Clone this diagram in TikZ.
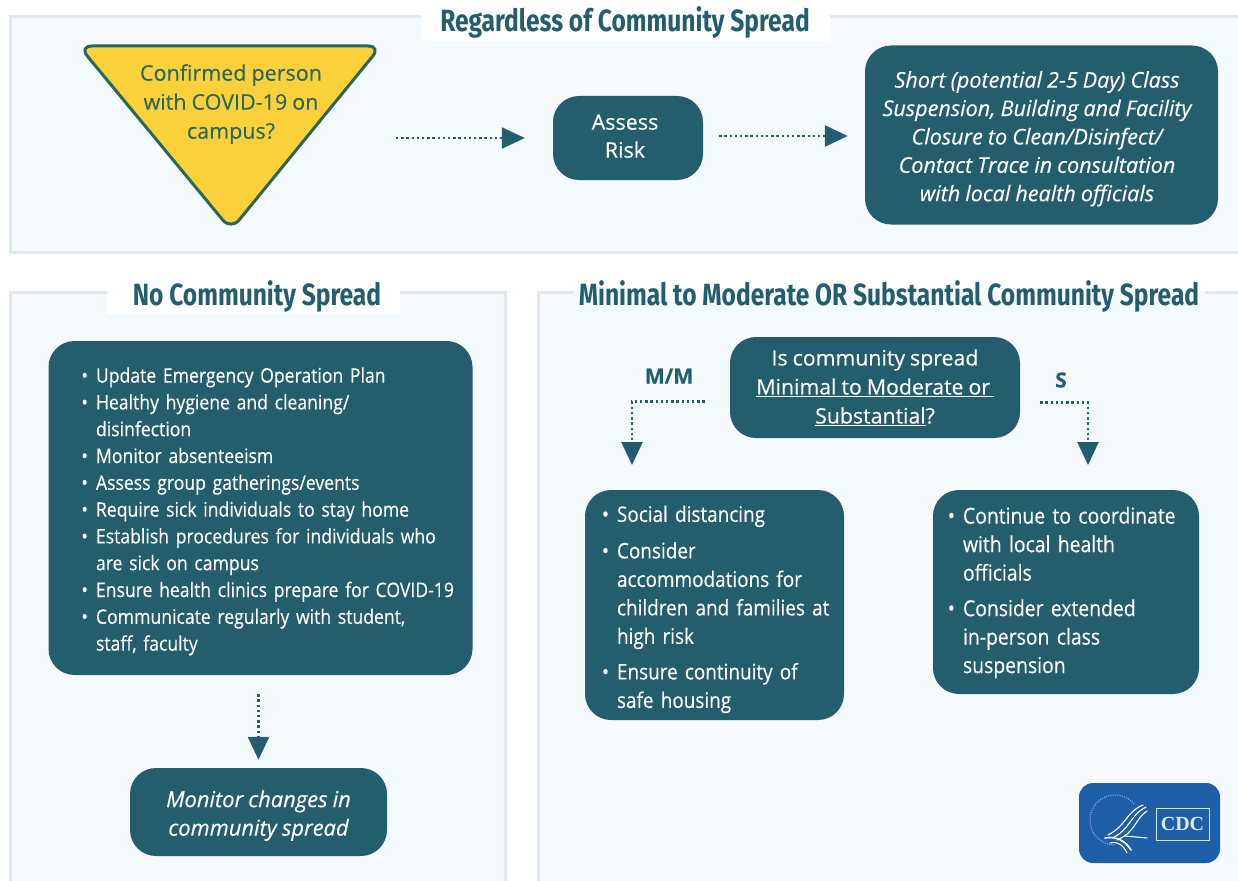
\documentclass[tikz,border=0pt]{standalone}
\usepackage{fontspec}
\setmainfont[FakeStretch=0.88,FakeBold=0.25,WordSpace=0.85]{Open Sans}
\newfontfamily\widef[FakeBold=0.25,WordSpace=0.9]{Open Sans}
\newfontfamily\titlef[FakeStretch=0.8]{Fira Sans}
\newfontfamily\cdcf{Liberation Serif}
\usetikzlibrary{arrows.meta,calc}
\definecolor{teal}{HTML}{245E6E}
\definecolor{panelfill}{HTML}{F5FAFE}
\definecolor{panelline}{HTML}{E2E9EC}
\definecolor{warn}{HTML}{FBD13B}
\definecolor{warnline}{HTML}{2A665E}
\definecolor{cdcblue}{HTML}{1F5FA8}
\definecolor{cdctext}{HTML}{D9E8F5}
\newcommand{\bul}{\leavevmode\llap{•\hspace{8pt}}}
\newcommand{\longln}[1]{\leavevmode\rlap{#1}}
\newcommand{\topgap}[1]{\rule{0pt}{#1pt}}
\newcommand{\rp}[1]{\leavevmode\hbox to #1pt{}}
\tikzset{
  x=1pt,y=-1pt,
  panel/.style={draw=panelline,line width=3pt,fill=panelfill},
  paneltitle/.style={text=teal,inner sep=0pt,font=\titlef\bfseries\fontsize{30.7}{34}\selectfont},
  titlebg/.style={fill=white,draw=none},
  tealbox/.style={fill=teal,text=white,rounded corners=26pt,inner sep=0pt,align=center,font=\widef\fontsize{21.5}{28.5}\selectfont},
  listbox/.style={tealbox,align=left,font=\fontsize{20}{26.8}\selectfont},
  flow/.style={draw=teal,line width=2.4pt,dash pattern=on 2.4pt off 2.8pt,-{Triangle[length=23pt,width=21pt,fill=teal]}},
  branchlabel/.style={text=teal,inner sep=0pt,font=\widef\bfseries\fontsize{21}{24}\selectfont},
}
\begin{document}
\begin{tikzpicture}
\useasboundingbox (0,0) rectangle (1238,880);
\clip (0,0) rectangle (1238,880);
\fill[white] (0,0) rectangle (1238,880);
% panels
\draw[panel] (10,17) rectangle (1250,252);
\draw[panel] (10,292) rectangle (505,900);
\draw[panel] (538,292) rectangle (1250,900);
\fill[titlebg] (421,0) rectangle (830,41);
\fill[titlebg] (107,276) rectangle (400,314);
\fill[white] (574,285) rectangle (1205,291);
\fill[panelfill] (574,291) rectangle (1205,296);
\node[paneltitle] (t1) at (625,22) {Regardless of Community Spread};
\node[paneltitle] (t2) at (257,296.5) {No Community Spread};
\node[paneltitle] (t3) at (889,296.5) {Minimal to Moderate OR Substantial Community Spread};
% triangle
\draw[fill=warn,draw=warnline,line width=3pt,rounded corners=13pt] (79,46) -- (381,46) -- (231,230) -- cycle;
\node[text=warnline,inner sep=0pt,align=center,font=\widef\fontsize{21.5}{29}\selectfont] (tri) at (231,104) {Confirmed person\\with COVID-19 on\\campus?};
\coordinate (triexit) at (396,138);
% upper boxes
\node[tealbox,minimum width=150pt,minimum height=84pt] (assess) at (628,138) {Assess\rp{6}\\[-0.5pt]Risk\rp{6}\rule[-4pt]{0pt}{0pt}};
\node[tealbox,minimum width=353pt,minimum height=179pt,font=\widef\itshape\fontsize{21.6}{28.4}\selectfont] (short) at (1041.5,135) {\topgap{24}Short (potential 2-5 Day) Class\rp{9}\\Suspension, Building and Facility\rp{9}\\Closure to Clean/Disinfect/\rp{9}\\Contact Trace in consultation\rp{9}\\with local health officials\rp{9}};
% left column
\node[listbox,minimum width=424pt,minimum height=334pt,text width=329pt] (nolist) at (260.5,508) {\topgap{22}\bul Update Emergency Operation Plan\\\bul Healthy hygiene and cleaning/\\disinfection\\\bul Monitor absenteeism\\\bul Assess group gatherings/events\\\bul Require sick individuals to stay home\\\bul\longln{Establish procedures for individuals who}\\are sick on campus\\\bul\longln{Ensure health clinics prepare for COVID-19}\\\bul Communicate regularly with student,\\staff, faculty};
\node[tealbox,minimum width=257pt,minimum height=88pt,font=\widef\itshape\fontsize{21.9}{28.5}\selectfont] (monitor) at (258.5,812) {\topgap{24}Monitor changes in\\community spread};
% right column
\node[tealbox,minimum width=290pt,minimum height=101pt,font=\widef\fontsize{21.3}{29}\selectfont] (q) at (875,387.5) {Is community spread\\\underline{Minimal to Moderate or\,}\\\underline{Substantial}?};
\node[branchlabel] (mmlabel) at (669,376) {M/M};
\node[branchlabel] (slabel) at (1061,380) {S};
\node[listbox,minimum width=259pt,minimum height=230pt,text width=195pt,font=\fontsize{21.5}{28.5}\selectfont] (mm) at (714.5,605) {\topgap{25}\bul Social distancing\\[8pt]\bul Consider\\accommodations for\\\longln{children and families at}\\high risk\\[7pt]\bul Ensure continuity of\\safe housing};
\node[listbox,minimum width=266pt,minimum height=204pt,text width=206pt,font=\fontsize{22}{28.5}\selectfont] (sbox) at (1066,592) {\topgap{18}\bul\longln{Continue to coordinate}\\with local health\\officials\\[7pt]\bul Consider extended\\in-person class\\suspension};
\coordinate (mmdrop) at (632,490);
\coordinate (sdrop) at (1088,490);
% connectors
\draw[flow,shorten >=28pt] (triexit) -- (assess.west);
\draw[flow,shorten <=16pt,shorten >=17pt] ([yshift=2pt]assess.east) -- ([yshift=2pt]assess.east -| short.west);
\draw[flow,shorten <=19pt,shorten >=8pt] (monitor.north |- nolist.south) -- (monitor.north);
\draw[flow,shorten <=25pt,shorten >=25pt] ([yshift=-14pt]q.west) -| (mmdrop);
\draw[flow,shorten <=20pt,shorten >=25pt] ([yshift=-15pt]q.east) -| (sdrop);
% CDC logo
\fill[cdcblue,rounded corners=14pt] (1079,783) rectangle (1220,863);
\draw[white,opacity=.55,line width=1pt,dash pattern=on 1pt off 1.3pt] plot[domain=-40:-270,samples=40,smooth] ({1115+25*cos(\x)},{820+25*sin(\x)});
\draw[white,line width=1.1pt,line cap=round] (1146,807) .. controls (1130,815) and (1130,830) .. (1112,838);
\draw[white,line width=1.1pt,line cap=round] (1143,805) .. controls (1126,812) and (1126,826) .. (1108,835);
\draw[white,line width=1.1pt,line cap=round] (1147,811) .. controls (1134,820) and (1136,832) .. (1117,840);
\draw[white,line width=1.6pt,line cap=round] (1105,838) .. controls (1115,836) and (1125,840) .. (1131,850);
\draw[white,line width=1.1pt,line cap=round] (1110,843) .. controls (1118,841) and (1123,845) .. (1127,853);
\draw[white,line width=1.1pt,line cap=round] (1125,836) -- (1147,838);
\node[draw=cdctext,line width=.9pt,text=cdctext,inner sep=0pt,minimum width=53pt,minimum height=32pt,font=\cdcf\bfseries\fontsize{20}{22}\selectfont] (cdc) at (1182.5,824) {CDC};
\end{tikzpicture}
\end{document}
